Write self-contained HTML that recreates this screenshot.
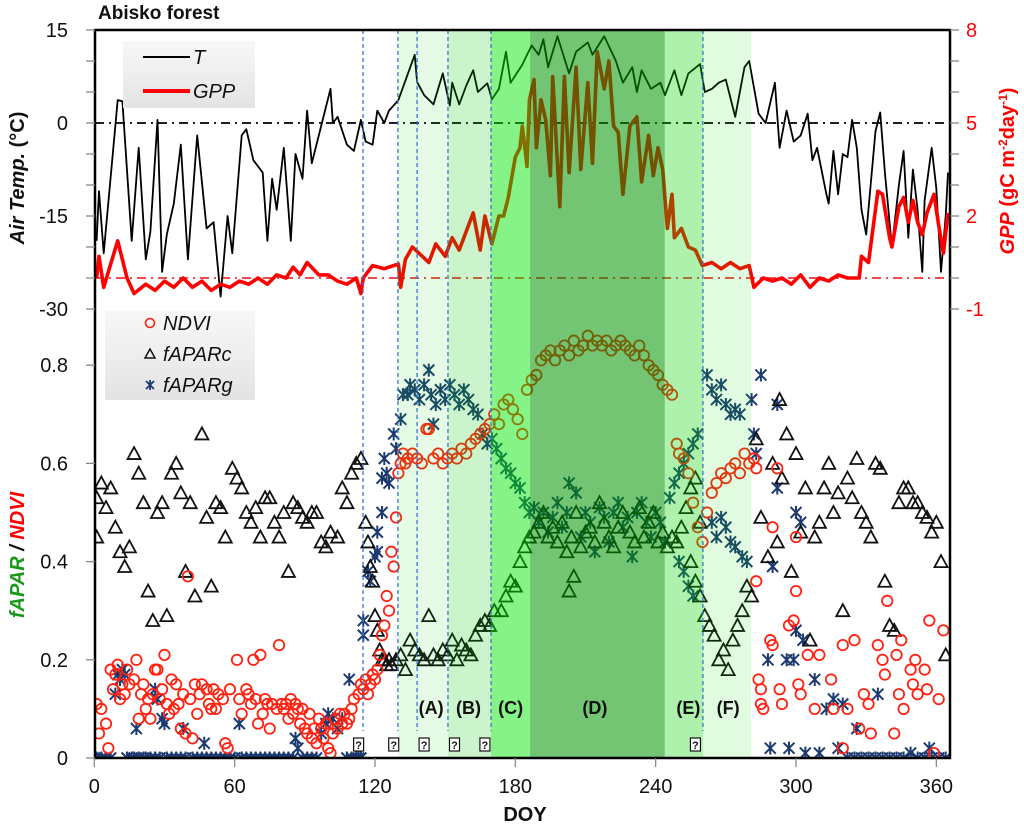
<!DOCTYPE html>
<html>
<head>
<meta charset="utf-8">
<style>
  html, body { margin: 0; padding: 0; background: #fff; }
  svg { display: block; }
  text { font-family: "Liberation Sans", "DejaVu Sans", sans-serif; }
</style>
</head>
<body>
<svg id="chart" width="1024" height="829" viewBox="0 0 1024 829" xmlns="http://www.w3.org/2000/svg">
  <defs>
    <linearGradient id="legGrad" x1="0" y1="0" x2="0" y2="1">
      <stop offset="0" stop-color="#f7f7f7"/>
      <stop offset="0.5" stop-color="#eeeeee"/>
      <stop offset="1" stop-color="#e3e3e3"/>
    </linearGradient>
    <clipPath id="plotClip"><rect x="95" y="30" width="855" height="728"/></clipPath>
  </defs>
  <g id="dataLayer" clip-path="url(#plotClip)"></g>
  <g id="shadeLayer"></g>
  <g id="overLayer"></g>
  <g id="axisLayer"></g>
</svg>
<script>
// ---------------- DATA ----------------
const xTickLabels = [0, 60, 120, 180, 240, 300, 360];
const tempTickLabels = [15, 0, -15, -30];
const gppTickLabels = [8, 5, 2, -1];
const fTickLabels = [0.8, 0.6, 0.4, 0.2, 0];
const phaseLabels = ["(A)", "(B)", "(C)", "(D)", "(E)", "(F)"];
const phaseLabelDays = [144, 160, 178, 214, 254, 271];
const phaseBounds = [129.8, 151.2, 169.6, 186.3, 243.9, 260.2, 280.8];
const dashedLineDays = [114.9, 129.8, 138, 151.2, 169.6, 260.2];
const markerBoxDays = [113, 128, 141, 154, 167, 257];

const tempPoints = [[1,-19],[2,-11],[4,-21],[10,3.7],[12,3.5],[16,-19],[19,-4],[22,-22],[24,-17.5],[27,0.5],[29,-24],[31,-18],[34,-13],[37,-3.5],[40,-22],[44,-2],[48,-17],[51,-16],[54,-28],[57,-15],[59,-21],[63,-2],[65,-1],[68,-6],[72,-8],[74,-19],[76,-9],[78,-14],[81,-4],[84,-19],[86,-5],[89,-9],[91,2],[93,-6.5],[96,-2],[101,5.5],[102,0],[104,1],[108,-3.5],[111,-4.5],[114,0.5],[116,-3],[119,-3.5],[121,2],[124,0],[126,2],[130,3.7],[137,11],[138,6.6],[141,4.5],[145,3],[149,8],[152,2.8],[153,6.5],[156,3],[159,6],[162,8.5],[164,5],[168,6.4],[170,3.8],[173,5.5],[176,11.5],[178,6.5],[183,9.4],[185,11],[187,12.5],[190,11],[192,13.5],[194,9],[198,14],[203,8],[206,11.5],[211,13],[213,11],[218,14],[223,10],[226,6.5],[230,9],[232,5],[234,8.5],[238,5.5],[242,6.5],[244,4.5],[248,8.5],[251,4.5],[254,8],[259,9.5],[261,5],[264,5.5],[267,6.5],[270,7],[274,1],[278,9],[280,10],[284,1.5],[287,0],[291,6.5],[293,-4],[296,2],[299,-3],[302,-2],[305,1.5],[307,-6],[309,-4],[313,-11.5],[314,-13],[316,-4.5],[318,-11.5],[320,-5],[322,-5.5],[324,0.5],[326,-4],[328,-14],[330,-18],[334,-1.3],[336,1.7],[338,-8],[341,-20],[344,-10],[346,-4.5],[348,-18.5],[350,-7.5],[352,-14],[354,-24],[355,-12.5],[358,-4],[360,-10.5],[362,-24],[364,-15],[365,-8]];

const gppPoints = [[1,0],[2,0.7],[4,-0.3],[10,1.2],[14,0],[17,-0.5],[22,-0.2],[26,-0.4],[30,-0.1],[34,-0.3],[38,0],[42,-0.3],[46,-0.1],[50,-0.4],[54,-0.2],[58,-0.3],[62,-0.1],[66,-0.2],[70,0],[74,-0.2],[78,0.1],[82,0],[85,0.35],[88,0.1],[91,0.5],[96,0.1],[100,0.1],[104,-0.1],[108,-0.2],[112,0],[114,-0.5],[115,0],[119,0.4],[124,0.3],[130,0.45],[131,-0.3],[133,0.6],[136,1.0],[143,0.5],[146,1.1],[150,0.7],[153,1.3],[156,0.9],[162,2.1],[165,0.9],[167,2.0],[170,1.1],[173,2.0],[175,2.0],[177,2.6],[180,3.9],[182,4.2],[183,4.9],[185,3.6],[186,5.75],[188,6.4],[189,4.2],[191,5.75],[193,5.1],[195,3.3],[196,6.5],[199,2.3],[201,6.5],[203,3.4],[206,6.8],[208,3.5],[211,6.3],[213,3.7],[215,7.3],[218,6.1],[220,7.0],[222,4.9],[224,4.7],[226,2.7],[229,4.9],[232,5.2],[234,3.1],[237,4.6],[239,3.3],[241,4.2],[243,3.5],[245,1.6],[247,2.7],[248,1.3],[251,1.6],[254,1.0],[257,0.9],[260,0.4],[264,0.5],[268,0.3],[272,0.5],[276,0.3],[280,0.4],[282,-0.3],[286,0],[290,-0.1],[294,0],[298,-0.2],[302,0.1],[306,-0.3],[310,0],[314,-0.1],[318,0.1],[322,0],[327,0],[328,0.7],[331,0.5],[335,2.8],[337,2.7],[340,1.3],[341,1.0],[344,2.3],[346,2.6],[348,1.8],[350,2.5],[352,1.8],[354,1.4],[356,2.1],[359,2.7],[361,1.7],[363,0.8],[365,2.1]];

const ndviPoints = [[1,.11],[2,.05],[3,.10],[5,.07],[6,.02],[7,.18],[8,.14],[9,.17],[10,.19],[11,.12],[12,.15],[13,.13],[14,.18],[15,.15],[17,.16],[18,.20],[19,.08],[20,.13],[21,.15],[22,.10],[23,.12],[24,.08],[25,.13],[26,.18],[27,.18],[28,.12],[29,.14],[30,.21],[31,.11],[32,.09],[33,.16],[34,.10],[35,.15],[36,.11],[37,.06],[38,.13],[39,.05],[40,.37],[41,.12],[42,.04],[43,.15],[44,.09],[45,.13],[46,.15],[48,.14],[49,.11],[50,.10],[51,.14],[52,.10],[53,.13],[55,.12],[56,.03],[57,.02],[58,.14],[61,.20],[62,.12],[63,.09],[65,.14],[66,.13],[67,.11],[68,.20],[69,.12],[70,.07],[71,.21],[72,.09],[73,.12],[74,.11],[75,.06],[76,.11],[78,.10],[79,.23],[80,.11],[81,.10],[82,.11],[83,.08],[84,.12],[85,.09],[86,.11],[87,.10],[88,.07],[89,.10],[90,.06],[91,.05],[92,.09],[93,.04],[94,.06],[95,.03],[96,.08],[97,.06],[98,.04],[99,.07],[100,.02],[101,.01],[102,.05],[103,.08],[104,.06],[105,.09],[106,.07],[107,.09],[108,.07],[109,.08],[110,.10],[111,.12],[113,.13],[114,.15],[115,.14],[116,.16],[117,.13],[118,.15],[119,.17],[120,.16],[121,.18],[122,.21],[123,.25],[124,.27],[125,.33],[126,.30],[127,.42],[128,.39],[129,.49],[130,.58],[131,.60],[132,.62],[133,.60],[134,.61],[136,.62],[138,.61],[140,.60],[142,.67],[143,.67],[145,.61],[147,.62],[149,.60],[151,.61],[153,.62],[155,.61],[157,.63],[159,.62],[161,.64],[163,.65],[165,.66],[167,.67],[169,.68],[171,.70],[173,.68],[175,.72],[177,.73],[179,.71],[181,.69],[183,.66],[185,.75],[187,.77],[189,.78],[191,.81],[193,.82],[195,.83],[197,.81],[199,.83],[201,.84],[203,.82],[205,.85],[207,.83],[209,.84],[211,.86],[213,.84],[215,.85],[217,.84],[219,.85],[221,.83],[223,.84],[225,.85],[227,.84],[229,.83],[231,.82],[233,.84],[235,.82],[237,.80],[239,.79],[241,.78],[243,.76],[245,.75],[247,.74],[249,.64],[250,.62],[252,.61],[254,.58],[256,.52],[258,.47],[260,.44],[262,.50],[264,.54],[266,.56],[268,.58],[270,.57],[272,.59],[274,.60],[276,.58],[278,.62],[280,.60],[282,.61],[283,.59],[283,.36],[284,.16],[285,.14],[285,.11],[286,.10],[289,.24],[290,.23],[290,.47],[292,.59],[293,.14],[294,.11],[297,.27],[299,.28],[300,.45],[300,.34],[301,.15],[302,.13],[305,.21],[308,.10],[310,.21],[315,.16],[316,.10],[320,.23],[320,.02],[322,.10],[325,.24],[327,.06],[329,.13],[331,.11],[332,.05],[335,.23],[337,.20],[338,.17],[339,.32],[342,.05],[343,.21],[344,.13],[345,.24],[346,.10],[349,.18],[350,.15],[351,.20],[352,.13],[355,.18],[356,.14],[357,.28],[359,.01],[361,.12],[363,.26]];

const fAPARcPoints = [[1,.53],[1,.45],[3,.56],[5,.51],[7,.55],[9,.47],[11,.42],[13,.39],[15,.43],[17,.62],[19,.58],[21,.52],[23,.34],[25,.28],[27,.50],[29,.52],[31,.29],[33,.58],[35,.60],[37,.54],[39,.38],[41,.52],[43,.33],[46,.66],[48,.49],[50,.35],[52,.52],[54,.51],[56,.45],[59,.59],[61,.57],[63,.55],[65,.50],[67,.48],[69,.51],[71,.45],[73,.53],[75,.53],[77,.48],[79,.45],[81,.50],[83,.38],[85,.52],[87,.51],[89,.49],[91,.48],[93,.50],[95,.50],[97,.44],[99,.43],[101,.46],[104,.45],[106,.55],[108,.52],[110,.58],[112,.60],[114,.61],[116,.48],[117,.44],[118,.39],[119,.36],[120,.29],[121,.26],[122,.22],[123,.20],[124,.20],[125,.19],[126,.20],[127,.19],[129,.20],[131,.21],[133,.18],[135,.24],[137,.22],[139,.21],[141,.20],[143,.29],[145,.21],[147,.20],[149,.22],[151,.21],[153,.24],[155,.20],[157,.23],[159,.22],[161,.21],[163,.25],[165,.27],[167,.28],[169,.27],[171,.30],[174,.30],[176,.33],[178,.36],[180,.35],[182,.40],[184,.43],[186,.45],[188,.46],[190,.48],[192,.50],[194,.45],[196,.47],[198,.44],[200,.48],[202,.42],[203,.34],[204,.45],[205,.37],[206,.50],[208,.43],[210,.46],[212,.47],[214,.44],[216,.52],[218,.48],[220,.45],[222,.43],[224,.47],[226,.50],[229,.46],[231,.44],[233,.51],[235,.45],[237,.48],[239,.50],[241,.44],[243,.46],[245,.43],[247,.45],[249,.44],[251,.47],[253,.51],[255,.55],[257,.57],[259,.48],[255,.40],[257,.36],[259,.33],[261,.29],[263,.27],[265,.25],[267,.20],[269,.22],[271,.18],[273,.24],[275,.27],[277,.30],[279,.35],[281,.33],[283,.65],[285,.49],[288,.41],[290,.60],[292,.44],[293,.73],[294,.57],[296,.66],[298,.38],[300,.62],[302,.46],[304,.55],[306,.24],[308,.45],[310,.48],[312,.55],[314,.60],[316,.50],[318,.54],[320,.30],[322,.57],[324,.53],[326,.61],[328,.50],[330,.48],[332,.45],[334,.60],[336,.59],[338,.36],[340,.27],[342,.26],[344,.52],[346,.55],[348,.55],[350,.52],[352,.52],[354,.50],[356,.49],[358,.46],[360,.48],[362,.40],[364,.21]];

const fAPARgPoints = [[0,0],[1,0],[3,0],[5,0],[7,0],[14,0],[16,0],[17,0],[19,0],[21,0],[22,0],[24,0],[26,0],[28,0],[31,0],[33,0],[35,0],[37,0],[39,0],[42,0],[44,0],[46,0],[48,0],[50,0],[52,0],[54,0],[56,0],[58,0],[60,0],[63,0],[65,0],[67,0],[69,0],[71,0],[73,0],[75,0],[77,0],[79,0],[81,0],[83,0],[85,0],[89,0],[91,0],[93,0],[95,0],[108,0],[110,0],[112,0],[113,0],[114,0],[9,.13],[10,.17],[11,.16],[12,.18],[13,.17],[18,.06],[26,.14],[27,.12],[29,.08],[30,.07],[38,.06],[47,.03],[62,.07],[86,.04],[87,.02],[97,.05],[99,.07],[100,.09],[102,.08],[104,.06],[106,.08],[109,.16],[115,.25],[115,.28],[117,.38],[118,.36],[120,.41],[121,.46],[121,.42],[123,.57],[123,.50],[124,.61],[125,.58],[126,.56],[128,.66],[129,.63],[131,.69],[132,.74],[134,.74],[135,.76],[137,.75],[139,.73],[141,.76],[143,.79],[144,.74],[145,.68],[146,.72],[148,.75],[150,.73],[152,.76],[154,.74],[156,.72],[158,.75],[160,.73],[162,.71],[164,.70],[166,.66],[168,.64],[170,.65],[172,.63],[174,.61],[176,.59],[178,.58],[180,.56],[182,.55],[184,.52],[186,.50],[188,.51],[190,.48],[192,.50],[194,.46],[196,.49],[198,.52],[200,.47],[202,.50],[203,.56],[206,.54],[208,.45],[210,.50],[212,.48],[214,.42],[216,.51],[218,.49],[220,.44],[222,.50],[224,.52],[226,.47],[228,.49],[230,.41],[232,.50],[234,.52],[236,.48],[238,.45],[240,.50],[242,.48],[244,.44],[246,.53],[248,.56],[250,.58],[252,.60],[254,.62],[256,.64],[258,.66],[250,.40],[252,.38],[254,.35],[256,.33],[262,.78],[264,.75],[266,.73],[268,.76],[270,.72],[272,.70],[274,.71],[276,.70],[264,.48],[266,.45],[268,.49],[270,.47],[272,.44],[274,.43],[277,.41],[279,.40],[281,.73],[282,.66],[283,.62],[285,.78],[288,.20],[290,.39],[292,.72],[292,.55],[296,.20],[299,.20],[300,.50],[302,.48],[300,.26],[303,.24],[308,.16],[313,.10],[316,.12],[320,.11],[326,.06],[335,.13],[289,.02],[297,.02],[304,.01],[310,.01],[318,.02],[322,0],[325,0],[328,0],[331,0],[334,0],[337,0],[340,0],[343,0],[346,0],[349,.01],[352,0],[355,0],[357,.02],[358,0],[361,0],[364,0]];

// ---------------- SCALES ----------------
const X0 = 94.3, XK = 2.339;
function xs(d) { return X0 + XK * d; }
function yT(t) { return 123 - t * 6.2; }
function yG(g) { return 123 - (g - 5) * 31; }
function yV(v) { return 758 - v * 491; }

const NS = "http://www.w3.org/2000/svg";
function mk(tag, attrs, parent) {
  const el = document.createElementNS(NS, tag);
  for (const k in attrs) el.setAttribute(k, attrs[k]);
  parent.appendChild(el);
  return el;
}
const dataLayer = document.getElementById("dataLayer");
const shadeLayer = document.getElementById("shadeLayer");
const overLayer = document.getElementById("overLayer");
const axisLayer = document.getElementById("axisLayer");

let ref0 = mk("line", {x1:95, x2:950, y1:yT(0), y2:yT(0), stroke:"#000", "stroke-width":1.8, "stroke-dasharray":"9,5,2,5"}, dataLayer);


let refG = mk("line", {x1:95, x2:950, y1:yG(0), y2:yG(0), stroke:"#e33", "stroke-width":1.8, "stroke-dasharray":"9,5,2,5"}, dataLayer);



function circle(d, v) {
  const c = mk("circle", {cx:xs(d), cy:yV(v), r:5.2, fill:"none", stroke:"#f21", "stroke-width":1.8}, dataLayer);
  
  
}
function tri(d, v) {
  const x = xs(d), y = yV(v);
  const p = mk("polygon", {points:`${x},${y-6.5} ${x-6.5},${y+5.5} ${x+6.5},${y+5.5}`, fill:"none", stroke:"#111", "stroke-width":1.8}, dataLayer);
  
  
}
function star(d, v) {
  const x = xs(d), y = yV(v);
  const s = mk("path", {d:`M${x-5.5},${y-5.5}L${x+5.5},${y+5.5}M${x+5.5},${y-5.5}L${x-5.5},${y+5.5}M${x},${y-6.5}L${x},${y+6.5}`, stroke:"#1c3a70", "stroke-width":2, fill:"none"}, dataLayer);
  
  
}
fAPARgPoints.forEach(p => star(p[0], p[1]));
fAPARcPoints.forEach(p => tri(p[0], p[1]));
ndviPoints.forEach(p => circle(p[0], p[1]));

function pathOf(pts, yf) { return pts.map((p, i) => (i ? "L" : "M") + xs(p[0]).toFixed(1) + "," + yf(p[1]).toFixed(1)).join(""); }
let tLine = mk("path", {d:pathOf(tempPoints, yT), fill:"none", stroke:"#000", "stroke-width":1.8, "stroke-linejoin":"round"}, dataLayer);


let gLine = mk("path", {d:pathOf(gppPoints, yG), fill:"none", stroke:"#f00", "stroke-width":3.6, "stroke-linejoin":"round"}, dataLayer);



const shadeFills = ["rgba(0,215,0,0.10)", "rgba(0,200,0,0.20)", "rgba(0,230,0,0.48)", "rgba(0,150,0,0.55)", "rgba(0,210,0,0.32)", "rgba(0,220,0,0.12)"];
for (let i = 0; i < phaseBounds.length - 1; i++) {
  const r = mk("rect", {x:xs(phaseBounds[i]), y:30, width:xs(phaseBounds[i+1]) - xs(phaseBounds[i]), height:728, fill:shadeFills[i]}, shadeLayer);
  
  
}
dashedLineDays.forEach(d => {
  const l = mk("line", {x1:xs(d), x2:xs(d), y1:30, y2:731, stroke:"#3a74c8", "stroke-width":1.3, "stroke-dasharray":"4,3"}, overLayer);
  
  
});
phaseLabels.forEach((s, i) => {
  const t = mk("text", {x:xs(phaseLabelDays[i]), y:714, "text-anchor":"middle", "font-size":18, "font-weight":"bold", fill:"#111"}, overLayer);
  t.textContent = s;
  
  
});
markerBoxDays.forEach(d => {
  const g = mk("g", {}, overLayer);
  
  
  mk("rect", {x:xs(d) - 5, y:738, width:10, height:13, fill:"#fff", stroke:"#111", "stroke-width":1.2}, g);
  const t = mk("text", {x:xs(d), y:749, "text-anchor":"middle", "font-size":11, "font-weight":"bold", fill:"#111"}, g);
  t.textContent = "?";
});

function ax(tag, attrs, name) {
  const e = mk(tag, attrs, axisLayer);
  
  
  return e;
}
ax("path", {d:"M95,30 L950,30 L950,758 L95,758 Z", fill:"none", stroke:"#000", "stroke-width":2.5}, "plot-frame");
for (let t = 15; t >= -30; t -= 5) ax("line", {x1:86, x2:95, y1:yT(t), y2:yT(t), stroke:"#888", "stroke-width":1.3}, "temp-tick");
tempTickLabels.forEach(t => {
  const e = ax("text", {x:68, y:yT(t) + 7, "text-anchor":"end", "font-size":20, fill:"#111"}, "temp-tick-label");
  e.textContent = t;
});
[0.8, 0.6, 0.4, 0.2, 0].forEach(v => ax("line", {x1:86, x2:95, y1:yV(v), y2:yV(v), stroke:"#888", "stroke-width":1.3}, "fapar-tick"));
fTickLabels.forEach(v => {
  const e = ax("text", {x:68, y:yV(v) + 7, "text-anchor":"end", "font-size":20, fill:"#111"}, "fapar-tick-label");
  e.textContent = v === 0 ? "0" : v.toFixed(1);
});
for (let g = 8; g >= -1; g -= 1) ax("line", {x1:950, x2:959, y1:yG(g), y2:yG(g), stroke:"#888", "stroke-width":1.3}, "gpp-tick");
gppTickLabels.forEach(g => {
  const e = ax("text", {x:966, y:yG(g) + 7, "text-anchor":"start", "font-size":20, fill:"#f00"}, "gpp-tick-label");
  e.textContent = g;
});
xTickLabels.forEach(d => {
  ax("line", {x1:xs(d), x2:xs(d), y1:758, y2:767, stroke:"#888", "stroke-width":1.3}, "x-tick");
  const e = ax("text", {x:xs(d), y:793, "text-anchor":"middle", "font-size":20, fill:"#111"}, "x-tick-label");
  e.textContent = d;
});
</script>
<script>
(function(){
  const NS = "http://www.w3.org/2000/svg";
  const svg = document.getElementById("chart");
  const frag = `
  <text x="98" y="19" font-size="19" font-weight="bold" fill="#111">Abisko forest</text>
  <text x="525" y="821" text-anchor="middle" font-size="20" font-weight="bold" fill="#111">DOY</text>
  <text transform="translate(24,178) rotate(-90)" text-anchor="middle" font-size="20" font-weight="bold" fill="#111"><tspan font-style="italic">Air Temp.</tspan> (°C)</text>
  <text transform="translate(24,555) rotate(-90)" text-anchor="middle" font-size="20" font-weight="bold" font-style="italic"><tspan fill="#1a9a1a">fAPAR</tspan><tspan fill="#111"> / </tspan><tspan fill="#f00">NDVI</tspan></text>
  <text transform="translate(1014,171) rotate(-90)" text-anchor="middle" font-size="20" font-weight="bold" fill="#f00"><tspan font-style="italic">GPP</tspan> (gC m<tspan font-size="12" dy="-7">-2</tspan><tspan dy="7">day</tspan><tspan font-size="12" dy="-7">-1</tspan><tspan dy="7">)</tspan></text>
  <g>
    <rect x="123" y="41" width="132" height="67" fill="url(#legGrad)"/>
    <line x1="143" y1="57" x2="190" y2="57" stroke="#000" stroke-width="2"/>
    <text x="193" y="64" font-size="20" font-style="italic" fill="#111">T</text>
    <line x1="143" y1="91" x2="190" y2="91" stroke="#f00" stroke-width="4"/>
    <text x="193" y="98" font-size="20" font-style="italic" fill="#111">GPP</text>
  </g>
  <g>
    <rect x="105" y="311" width="150" height="89" fill="url(#legGrad)"/>
    <circle cx="150" cy="323" r="4.5" fill="none" stroke="#f21" stroke-width="1.6"/>
    <text x="163" y="330" font-size="20" font-style="italic" fill="#111">NDVI</text>
    <polygon points="150,349 145,358 155,358" fill="none" stroke="#111" stroke-width="1.5"/>
    <text x="163" y="361" font-size="20" font-style="italic" fill="#111">fAPARc</text>
    <path d="M146,381L154,389M154,381L146,389M150,380L150,390" stroke="#1c3a70" stroke-width="1.8"/>
    <text x="163" y="392" font-size="20" font-style="italic" fill="#111">fAPARg</text>
  </g>`;
  const g = document.createElementNS(NS, "g");
  g.innerHTML = frag;
  
  
  svg.appendChild(g);
})();
</script>
</body>
</html>
